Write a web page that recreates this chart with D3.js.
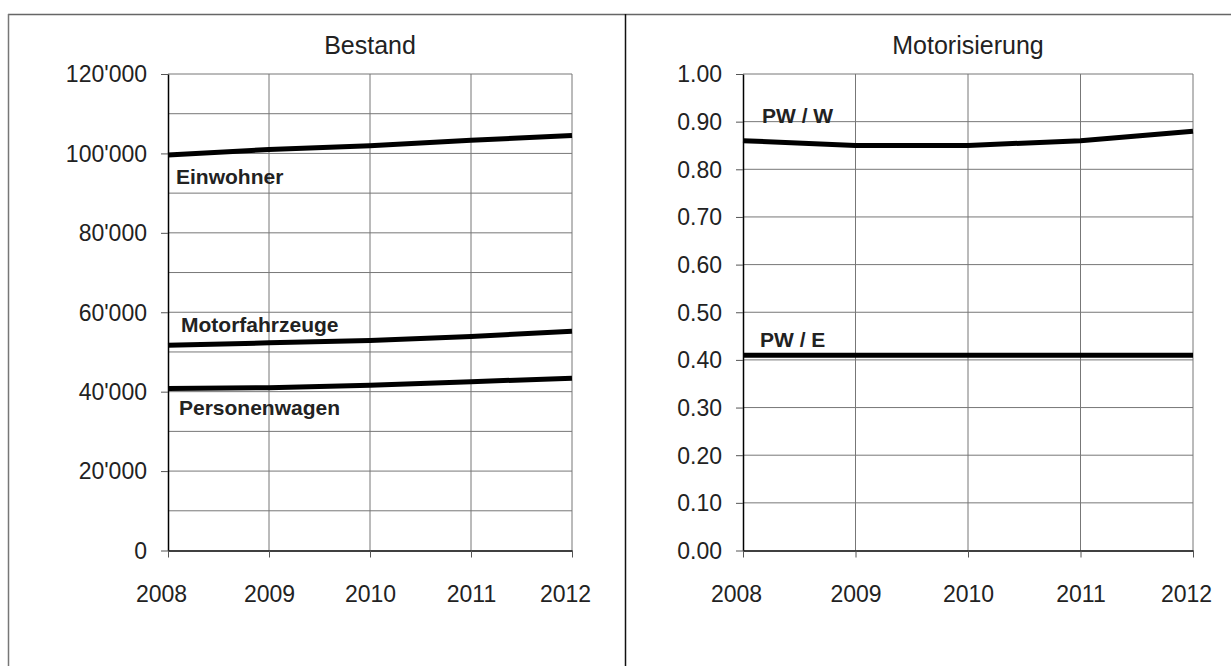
<!DOCTYPE html>
<html>
<head>
<meta charset="utf-8">
<script src="https://cdn.jsdelivr.net/npm/d3@7"></script>
<style>
  body { margin: 0; background: #fff; }
  text { font-family: "Liberation Sans", Arial, sans-serif; fill: #222; }
  .label { font-weight: bold; }
</style>
</head>
<body>
<div id="my_dataviz"></div>
<script>
var years = [2008, 2009, 2010, 2011, 2012];

// Bestand
var einwohner      = [99600, 101000, 101900, 103300, 104500];
var motorfahrzeuge = [51700, 52300, 52900, 53900, 55200];
var personenwagen  = [40800, 41000, 41600, 42500, 43400];
var bestandTicks = [0, 20000, 40000, 60000, 80000, 100000, 120000];
var bestandGrid  = [10000, 20000, 30000, 40000, 50000, 60000, 70000, 80000, 90000, 100000, 110000, 120000];

// Motorisierung
var pwW = [0.86, 0.85, 0.85, 0.86, 0.88];
var pwE = [0.41, 0.41, 0.41, 0.41, 0.41];
var motTicks = [0, 0.1, 0.2, 0.3, 0.4, 0.5, 0.6, 0.7, 0.8, 0.9, 1.0];

var W = 1231, H = 666;

var svg = d3.select("#my_dataviz")
  .append("svg")
  .attr("width", W)
  .attr("height", H);

// outer frame
svg.append("line").attr("x1", 8).attr("x2", W).attr("y1", 14.5).attr("y2", 14.5)
  .attr("stroke", "#666").attr("stroke-width", 1.5);
svg.append("line").attr("x1", 8.5).attr("x2", 8.5).attr("y1", 14).attr("y2", H)
  .attr("stroke", "#777").attr("stroke-width", 1.5);
svg.append("line").attr("x1", 625.5).attr("x2", 625.5).attr("y1", 14).attr("y2", H)
  .attr("stroke", "#111").attr("stroke-width", 1.5);

function panel(opt) {
  var x = d3.scaleLinear().domain([2008, 2012]).range([opt.left, opt.right]);
  var y = d3.scaleLinear().domain(opt.domain).range([550.5, 74]);

  var g = svg.append("g");

  // title
  g.append("text")
    .attr("x", (opt.left + opt.right) / 2)
    .attr("y", 54)
    .attr("text-anchor", "middle")
    .style("font-size", "25px")
    .text(opt.title);

  // gridlines
  g.selectAll(".hgrid")
    .data(opt.grid)
    .enter().append("line")
    .attr("x1", opt.left).attr("x2", opt.right)
    .attr("y1", function(d) { return y(d); })
    .attr("y2", function(d) { return y(d); })
    .attr("stroke", "#777").attr("stroke-width", 1);

  g.selectAll(".vgrid")
    .data(years.slice(1))
    .enter().append("line")
    .attr("x1", function(d) { return x(d); })
    .attr("x2", function(d) { return x(d); })
    .attr("y1", y(opt.domain[1])).attr("y2", y(0))
    .attr("stroke", "#777").attr("stroke-width", 1);

  // axes
  var yAxis = d3.axisLeft(y)
    .tickValues(opt.ticks)
    .tickFormat(opt.format)
    .tickSize(7)
    .tickSizeOuter(0)
    .tickPadding(14);

  var xAxis = d3.axisBottom(x)
    .tickValues(years)
    .tickFormat(d3.format("d"))
    .tickSize(7)
    .tickSizeOuter(0)
    .tickPadding(28);

  var ya = g.append("g")
    .attr("transform", "translate(" + opt.left + ",0)")
    .call(yAxis);
  ya.select(".domain").attr("stroke", "#000").attr("stroke-width", 1.5);
  ya.selectAll(".tick line").attr("stroke", "#555");
  ya.selectAll(".tick text").style("font-size", "23px").attr("fill", "#222").attr("dy", "0.34em");

  var xa = g.append("g")
    .attr("transform", "translate(0," + y(0) + ")")
    .call(xAxis);
  xa.select(".domain").attr("stroke", "#000").attr("stroke-width", 1.5);
  xa.selectAll(".tick line").attr("stroke", "#555");
  xa.selectAll(".tick text").style("font-size", "23px").attr("fill", "#222")
    .attr("dx", function(d, i) { return (i == 0 || i == years.length - 1) ? -7 : 0; });

  var line = d3.line()
    .x(function(d, i) { return x(years[i]); })
    .y(function(d) { return y(d); });

  opt.series.forEach(function(s) {
    g.append("path")
      .datum(s.values)
      .attr("d", line)
      .attr("fill", "none")
      .attr("stroke", "#000")
      .attr("stroke-width", 5);

    g.append("text")
      .attr("class", "label")
      .attr("x", x(2008) + s.dx)
      .attr("y", y(s.values[0]) + s.dy)
      .style("font-size", "21px")
      .text(s.name);
  });
}

panel({
  title: "Bestand",
  left: 168, right: 572,
  domain: [0, 120000],
  ticks: bestandTicks,
  grid: bestandGrid,
  format: function(d) { return d3.format(",")(d).replace(/,/g, "'"); },
  series: [
    {name: "Einwohner", values: einwohner, dx: 8, dy: 29},
    {name: "Motorfahrzeuge", values: motorfahrzeuge, dx: 13, dy: -13},
    {name: "Personenwagen", values: personenwagen, dx: 11, dy: 27}
  ]
});

panel({
  title: "Motorisierung",
  left: 743, right: 1193,
  domain: [0, 1],
  ticks: motTicks,
  grid: motTicks.slice(1),
  format: d3.format(".2f"),
  series: [
    {name: "PW / W", values: pwW, dx: 19, dy: -18},
    {name: "PW / E", values: pwE, dx: 17, dy: -8}
  ]
});
</script>
</body>
</html>
